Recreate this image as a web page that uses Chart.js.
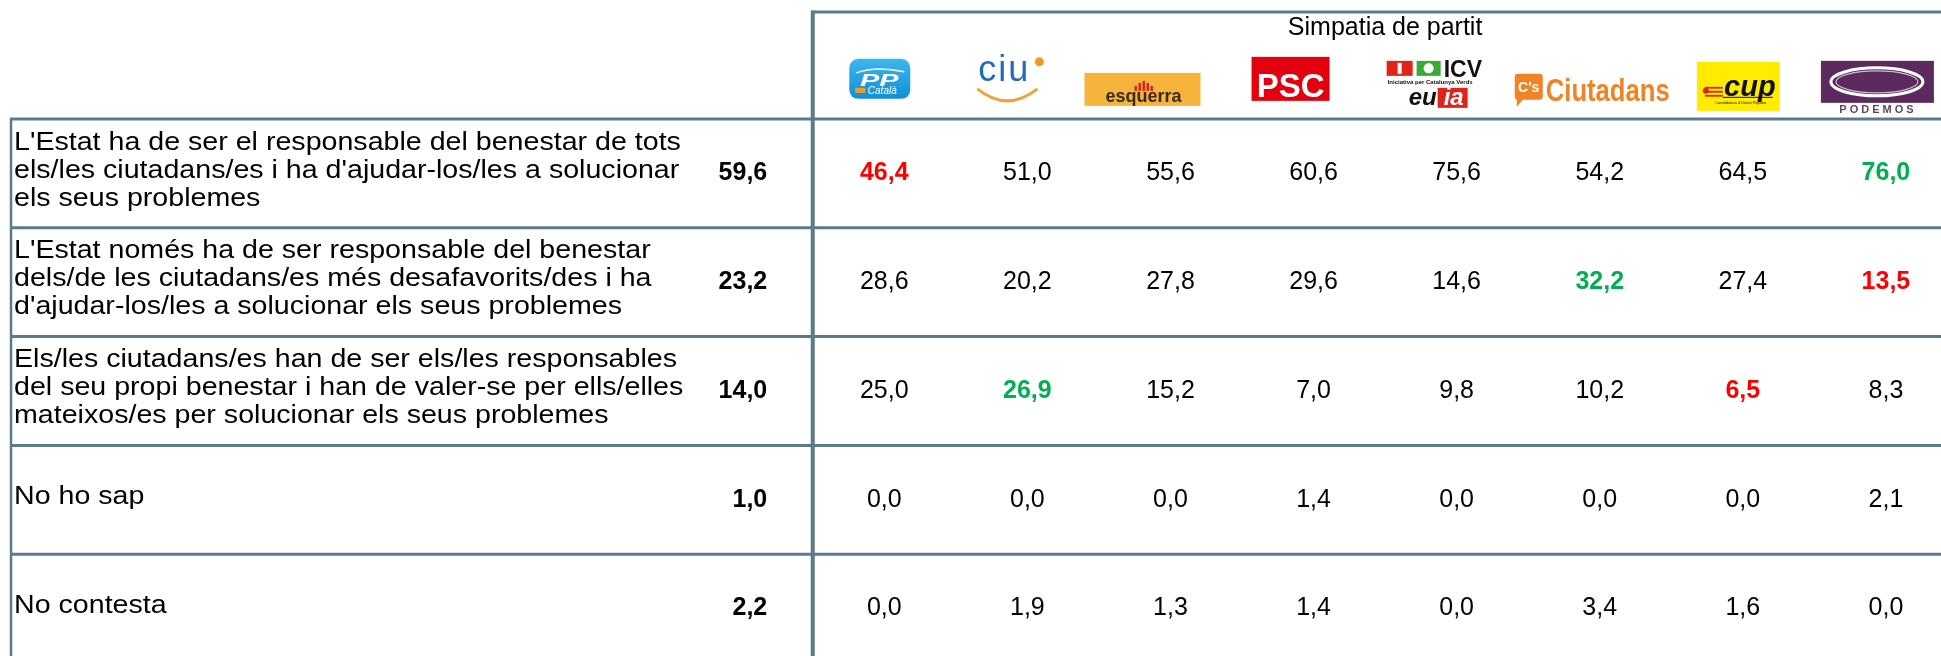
<!DOCTYPE html>
<html>
<head>
<meta charset="utf-8">
<script src="https://cdn.jsdelivr.net/npm/chart.js@4.4.1/dist/chart.umd.min.js"></script>
<style>
  html, body { margin: 0; padding: 0; background: #fff; }
  canvas { display: block; }
</style>
</head>
<body>
<canvas id="taulaChart" width="1941" height="656"></canvas>
<script>
// Preguntes (files) i total de la mostra
const preguntes = [
  ["L'Estat ha de ser el responsable del benestar de tots", "els/les ciutadans/es i ha d'ajudar-los/les a solucionar", "els seus problemes"],
  ["L'Estat només ha de ser responsable del benestar", "dels/de les ciutadans/es més desafavorits/des i ha", "d'ajudar-los/les a solucionar els seus problemes"],
  ["Els/les ciutadans/es han de ser els/les responsables", "del seu propi benestar i han de valer-se per ells/elles", "mateixos/es per solucionar els seus problemes"],
  ["No ho sap"],
  ["No contesta"]
];
const total = [59.6, 23.2, 14.0, 1.0, 2.2];

// Columnes: simpatia de partit
const titolCapcalera = 'Simpatia de partit';
const partits = ['PP', 'CiU', 'ERC', 'PSC', 'ICV-EUiA', "C's", 'CUP', 'Podemos'];
const valorsPP = [46.4, 28.6, 25.0, 0.0, 0.0];
const valorsCiU = [51.0, 20.2, 26.9, 0.0, 1.9];
const valorsERC = [55.6, 27.8, 15.2, 0.0, 1.3];
const valorsPSC = [60.6, 29.6, 7.0, 1.4, 1.4];
const valorsICV = [75.6, 14.6, 9.8, 0.0, 0.0];
const valorsCs = [54.2, 32.2, 10.2, 0.0, 3.4];
const valorsCUP = [64.5, 27.4, 6.5, 0.0, 1.6];
const valorsPodemos = [76.0, 13.5, 8.3, 2.1, 0.0];
const valorsPartits = [valorsPP, valorsCiU, valorsERC, valorsPSC, valorsICV, valorsCs, valorsCUP, valorsPodemos];

// només les 3 primeres files marquen màxim (verd) i mínim (vermell)
const filesDestacades = 3;

// posicions en unitats de les escales (columna = 1, fila = 1)
const X_LABEL = -6.082;
const X_ESQ = -6.103;
const X_TOTAL = -0.818;
const Y_TOP = -1.484;
const Y_TITOL = -1.335;
const Y_LOGO = -0.86;

const FONT = "'Liberation Sans', Arial, sans-serif";
const LINIA = '#5b7a8c';
const VERMELL = '#ff0000';
const VERD = '#00b050';

function fmt(v) {
  return v.toFixed(1).replace('.', ',');
}

function colorValor(r, c) {
  if (r >= filesDestacades) return null;
  let fila = valorsPartits.map(a => a[r]);
  let v = valorsPartits[c][r];
  if (v === Math.max(...fila)) return VERD;
  if (v === Math.min(...fila)) return VERMELL;
  return null;
}

function rrect(ctx, x, y, w, h, r) {
  ctx.beginPath();
  ctx.moveTo(x + r, y);
  ctx.arcTo(x + w, y, x + w, y + h, r);
  ctx.arcTo(x + w, y + h, x, y + h, r);
  ctx.arcTo(x, y + h, x, y, r);
  ctx.arcTo(x, y, x + w, y, r);
  ctx.closePath();
}

// logos aproximats dels partits
function dibuixaLogo(ctx, nom, cx, cy) {
  ctx.save();
  ctx.textAlign = 'center';
  ctx.textBaseline = 'alphabetic';
  if (nom === 'PP') {
    let g = ctx.createLinearGradient(0, cy - 21, 0, cy + 19);
    g.addColorStop(0, '#3cb6f0');
    g.addColorStop(1, '#128fd4');
    ctx.fillStyle = g;
    rrect(ctx, cx - 35, cy - 21, 61, 40, 9);
    ctx.fill();
    ctx.strokeStyle = '#fff';
    ctx.lineWidth = 1.5;
    ctx.beginPath();
    ctx.moveTo(cx - 28, cy - 7);
    ctx.quadraticCurveTo(cx - 8, cy - 14, cx + 20, cy - 8);
    ctx.stroke();
    ctx.fillStyle = '#fff';
    ctx.save();
    ctx.translate(cx - 5, cy + 6);
    ctx.scale(1.7, 1);
    ctx.font = 'italic bold 17px ' + FONT;
    ctx.fillText('PP', 0, 0);
    ctx.restore();
    ctx.fillStyle = '#f39a2b';
    ctx.fillRect(cx - 29, cy + 8, 10, 5);
    ctx.fillStyle = '#fff';
    ctx.font = 'italic 10px ' + FONT;
    ctx.fillText('Català', cx - 2, cy + 14);
  } else if (nom === 'CiU') {
    ctx.fillStyle = '#1f6db5';
    ctx.font = '36px ' + FONT;
    ctx.letterSpacing = '2px';
    ctx.fillText('ciu', cx - 23, cy + 1);
    ctx.letterSpacing = '0px';
    ctx.fillStyle = '#f29a1f';
    ctx.beginPath();
    ctx.arc(cx + 12, cy - 18, 4.5, 0, Math.PI * 2);
    ctx.fill();
    ctx.strokeStyle = '#f0a33a';
    ctx.lineWidth = 3;
    ctx.beginPath();
    ctx.moveTo(cx - 50, cy + 9);
    ctx.quadraticCurveTo(cx - 20, cy + 33, cx + 10, cy + 9);
    ctx.stroke();
  } else if (nom === 'ERC') {
    ctx.fillStyle = '#fff';
    ctx.fillRect(cx - 89, cy + 26, 124, 13);
    ctx.fillStyle = '#f6b43c';
    ctx.fillRect(cx - 86, cy - 7, 116, 33);
    ctx.fillStyle = '#d8261c';
    let barres = [5, 8, 10, 8, 5];
    barres.forEach((h, i) => ctx.fillRect(cx - 36 + i * 4, cy + 11 - h, 2.5, h));
    ctx.fillStyle = '#3b2a18';
    ctx.font = 'bold 18px ' + FONT;
    ctx.fillText('esquerra', cx - 27, cy + 22);
  } else if (nom === 'PSC') {
    ctx.fillStyle = '#e3000f';
    ctx.fillRect(cx - 62, cy - 23, 78, 44);
    ctx.fillStyle = '#fff';
    ctx.font = 'bold 33px ' + FONT;
    ctx.fillText('PSC', cx - 23, cy + 17, 72);
  } else if (nom === 'ICV-EUiA') {
    let x0 = cx - 70;
    ctx.fillStyle = '#e2231a';
    ctx.fillRect(x0, cy - 19, 26, 15);
    ctx.fillStyle = '#3aa935';
    ctx.fillRect(x0 + 30, cy - 19, 24, 15);
    ctx.fillStyle = '#fff';
    ctx.beginPath();
    ctx.arc(x0 + 42, cy - 11.5, 5, 0, Math.PI * 2);
    ctx.fill();
    ctx.fillRect(x0 + 11, cy - 17, 4, 11);
    ctx.fillStyle = '#111';
    ctx.textAlign = 'left';
    ctx.font = 'bold 23px ' + FONT;
    ctx.fillText('ICV', x0 + 57, cy - 3, 60);
    ctx.font = 'bold 6px ' + FONT;
    ctx.fillText('Iniciativa per Catalunya Verds', x0 + 1, cy + 4, 104);
    ctx.fillStyle = '#e2231a';
    ctx.fillRect(x0 + 51, cy + 8, 30, 20);
    ctx.fillStyle = '#111';
    ctx.font = 'italic bold 24px ' + FONT;
    ctx.fillText('eu', x0 + 22, cy + 25, 30);
    ctx.fillStyle = '#fff';
    ctx.fillText('ia', x0 + 57, cy + 25, 20);
  } else if (nom === "C's") {
    let x0 = cx - 85;
    ctx.fillStyle = '#f08424';
    rrect(ctx, x0, cy - 6, 28, 26, 3);
    ctx.fill();
    ctx.beginPath();
    ctx.moveTo(x0 + 2, cy + 18);
    ctx.lineTo(x0 + 2, cy + 27);
    ctx.lineTo(x0 + 10, cy + 18);
    ctx.fill();
    ctx.fillStyle = '#fff';
    ctx.font = 'bold 14px ' + FONT;
    ctx.fillText("C's", x0 + 14, cy + 12, 25);
    ctx.fillStyle = '#f08424';
    ctx.textAlign = 'left';
    ctx.font = 'bold 32px ' + FONT;
    ctx.fillText('Ciutadans', x0 + 31, cy + 21, 124);
  } else if (nom === 'CUP') {
    ctx.fillStyle = '#ffec00';
    ctx.fillRect(cx - 46, cy - 18, 83, 49);
    ctx.fillStyle = '#d9251d';
    for (let i = 0; i < 3; i++) ctx.fillRect(cx - 38, cy + 7 + i * 4, 18, 1.8);
    ctx.beginPath();
    ctx.arc(cx - 37, cy + 11, 3, 0, Math.PI * 2);
    ctx.fill();
    ctx.fillStyle = '#111';
    ctx.font = 'italic bold 29px ' + FONT;
    ctx.fillText('cup', cx + 7, cy + 16, 52);
    ctx.fillRect(cx - 20, cy + 17, 50, 1);
    ctx.font = '4px ' + FONT;
    ctx.fillText("Candidatura d'Unitat Popular", cx - 2, cy + 24, 60);
  } else if (nom === 'Podemos') {
    ctx.fillStyle = '#5d2a60';
    ctx.fillRect(cx - 65, cy - 19, 113, 42);
    ctx.strokeStyle = '#ffffff';
    ctx.lineWidth = 3;
    ctx.beginPath();
    ctx.ellipse(cx - 9, cy + 2, 46, 14, 0, 0, Math.PI * 2);
    ctx.stroke();
    ctx.strokeStyle = '#cbbccb';
    ctx.lineWidth = 1.2;
    ctx.beginPath();
    ctx.ellipse(cx - 9, cy + 2, 41, 11, 0, 0, Math.PI * 2);
    ctx.stroke();
    ctx.fillStyle = '#5a4a5e';
    ctx.font = 'bold 11px ' + FONT;
    ctx.letterSpacing = '3px';
    ctx.fillText('PODEMOS', cx - 8, cy + 33);
    ctx.letterSpacing = '0px';
  }
  ctx.restore();
}

let datasets = valorsPartits.map((vals, c) => ({
  label: partits[c],
  data: vals.map((v, r) => ({ x: c, y: r, v: v })),
  pointRadius: 0
}));
datasets.push({
  label: 'Total',
  data: total.map((v, r) => ({ x: X_TOTAL, y: r, v: v })),
  pointRadius: 0
});

const taulaPlugin = {
  id: 'taula',
  beforeDraw(chart) {
    let ctx = chart.ctx;
    ctx.save();
    ctx.fillStyle = '#fff';
    ctx.fillRect(0, 0, chart.width, chart.height);
    ctx.restore();
  },
  beforeDatasetsDraw(chart) {
    let ctx = chart.ctx;
    let xs = chart.scales.x;
    let ys = chart.scales.y;
    let right = chart.chartArea.right;
    let bottom = chart.chartArea.bottom;
    ctx.save();

    // logos (abans de les línies, la línia passa per sobre)
    partits.forEach((p, c) => dibuixaLogo(ctx, p, xs.getPixelForValue(c), ys.getPixelForValue(Y_LOGO)));

    ctx.strokeStyle = LINIA;
    // línies horitzontals entre files
    ctx.lineWidth = 3;
    for (let r = 0; r < preguntes.length; r++) {
      let y = ys.getPixelForValue(r - 0.5);
      ctx.beginPath();
      ctx.moveTo(xs.getPixelForValue(X_ESQ) - 1, y);
      ctx.lineTo(right, y);
      ctx.stroke();
    }
    // línia superior de la capçalera
    let yTop = ys.getPixelForValue(Y_TOP);
    ctx.beginPath();
    ctx.moveTo(xs.getPixelForValue(-0.5), yTop);
    ctx.lineTo(right, yTop);
    ctx.stroke();

    // vora esquerra
    ctx.lineWidth = 2.5;
    ctx.beginPath();
    ctx.moveTo(xs.getPixelForValue(X_ESQ), ys.getPixelForValue(-0.5));
    ctx.lineTo(xs.getPixelForValue(X_ESQ), bottom);
    ctx.stroke();

    // separació total / partits
    ctx.lineWidth = 4;
    ctx.beginPath();
    ctx.moveTo(xs.getPixelForValue(-0.5), yTop - 1.5);
    ctx.lineTo(xs.getPixelForValue(-0.5), bottom);
    ctx.stroke();

    // títol de la capçalera
    ctx.fillStyle = '#000';
    ctx.font = '25px ' + FONT;
    ctx.textAlign = 'center';
    ctx.textBaseline = 'middle';
    ctx.fillText(titolCapcalera, xs.getPixelForValue((partits.length - 1) / 2), ys.getPixelForValue(Y_TITOL));

    // textos de les files (lletra una mica eixamplada, com a l'original)
    ctx.fillStyle = '#000';
    ctx.font = '26px ' + FONT;
    ctx.textAlign = 'left';
    ctx.textBaseline = 'middle';
    preguntes.forEach((linies, r) => {
      let yc = ys.getPixelForValue(r) - 3;
      let y0 = yc - (linies.length - 1) * 28 / 2;
      linies.forEach((t, i) => {
        ctx.save();
        ctx.translate(xs.getPixelForValue(X_LABEL), y0 + i * 28);
        ctx.scale(1.1, 1);
        ctx.fillText(t, 0, 0);
        ctx.restore();
      });
    });
    ctx.restore();
  },
  afterDatasetsDraw(chart) {
    let ctx = chart.ctx;
    ctx.save();
    ctx.textBaseline = 'middle';
    chart.data.datasets.forEach((ds, di) => {
      let meta = chart.getDatasetMeta(di);
      let esTotal = ds.label === 'Total';
      meta.data.forEach((pt, r) => {
        let v = ds.data[r].v;
        let col = esTotal ? null : colorValor(r, di);
        ctx.fillStyle = col || '#000';
        ctx.font = (esTotal || col ? 'bold ' : '') + '25px ' + FONT;
        ctx.textAlign = esTotal ? 'right' : 'center';
        ctx.fillText(fmt(v), pt.x, pt.y);
      });
    });
    ctx.restore();
  }
};

let ctx = document.getElementById('taulaChart').getContext('2d');
window.taulaChart = new Chart(ctx, {
  type: 'scatter',
  data: { datasets: datasets },
  options: {
    responsive: false,
    animation: false,
    devicePixelRatio: 1,
    layout: { padding: 0 },
    plugins: {
      legend: { display: false },
      tooltip: { enabled: false }
    },
    scales: {
      x: { type: 'linear', min: -6.18, max: 7.385, display: false },
      y: { type: 'linear', min: -1.594, max: 4.436, reverse: true, display: false }
    }
  },
  plugins: [taulaPlugin]
});
</script>
</body>
</html>
